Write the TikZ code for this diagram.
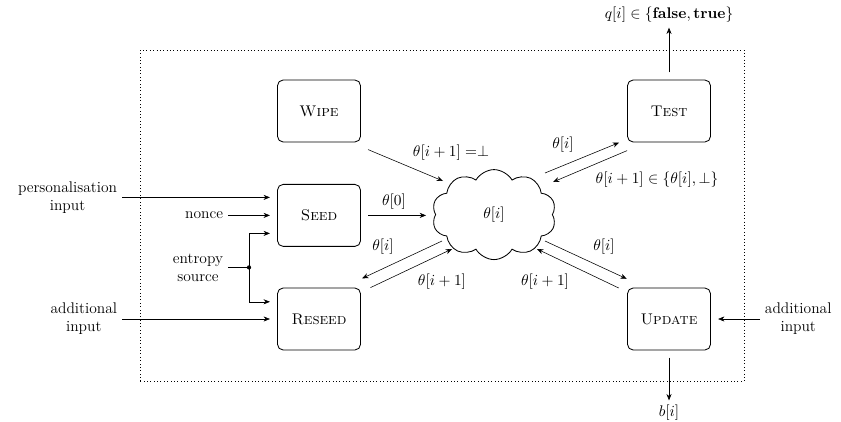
\documentclass[tikz,border=0pt]{standalone}
\usetikzlibrary{shapes.symbols,arrows.meta,calc}
\tikzset{
    block/.style={draw,semithick,rounded corners=4pt,minimum width=2.075cm,minimum height=1.55cm,outer sep=.19cm},
    store/.style={draw,semithick,cloud,cloud puffs=10,cloud puff arc=120,cloud ignores aspect,minimum width=3.1cm,minimum height=2.25cm,inner sep=0pt},
    >={Stealth[length=4.5pt,width=3.6pt]}
}
\begin{document}
\begin{tikzpicture}[font=\fontsize{11}{12.8}\selectfont]
                \useasboundingbox (0,0) rectangle (21.025,10.525);
                \draw[dotted] (3.5,1) rectangle (18.6,9.275);
                \node[block] (wipe) at (7.975,7.75) {\textsc{Wipe}};
                \node[block] (seed) at (7.975,5.14) {\textsc{Seed}};
                \node[block] (reseed) at (7.975,2.55) {\textsc{Reseed}};
                \node[block] (test) at (16.725,7.75) {\textsc{Test}};
                \node[block] (update) at (16.725,2.55) {\textsc{Update}};
                \node[store] (state) at (12.35,5.16) {$\theta[i]$};
                \node[anchor=east,align=center] (pers) at (3.05,5.59) {personalisation\\input};
                \node[anchor=east] (nonce) at (5.7,5.14) {nonce};
                \node[anchor=east,align=center] (entropy) at (5.7,3.84) {entropy\\source};
                \coordinate (split) at (6.225,3.84);
                \node[anchor=east,align=center] (addl) at (3.05,2.55) {additional\\input};
                \node[anchor=west,align=center] (addr) at (19,2.55) {additional\\input};
                \node (q) at (16.725,10.15) {$q[i] \in \{\mathbf{false}, \mathbf{true}\}$};
                \node (b) at (16.725,.2) {$b[i]$};
                \draw[->] (pers.east) -- (pers.east -| seed.west);
                \draw[->] (nonce) -- (nonce -| seed.west);
                \draw (entropy) -- (split);
                \draw[->] (split) |- ([yshift=-.45cm]seed.west);
                \draw[->] (split) |- ([yshift=.43cm]reseed.west);
                \fill (split) circle (1.5pt);
                \draw[->] (addl.east) -- (addl.east -| reseed.west);
                \draw[->] (addr) -- (addr -| update.east);
                \draw[->] (test) -- (q);
                \draw[->] (update) -- (b);
                \draw[->] (wipe.south east) -- ([shift={(-1.275,.84)}]state.center);
                \node (lwipe) at (11.275,6.7) {$\theta[i+1] = \perp$};
                \draw[->] (seed.east) -- ($(seed.east -| state.center)+(-1.7,0)$);
                \node (lseed) at (9.85,5.475) {$\theta[0]$};
                \draw[->] ([shift={(-1.3,-.66)}]state.center) -- ([shift={(-.15,.05)}]reseed.north east);
                \draw[->] ([shift={(.06,-.18)}]reseed.north east) -- ([shift={(-1.05,-.86)}]state.center);
                \node (lr1) at (9.575,4.35) {$\theta[i]$};
                \node (lr2) at (11.05,3.475) {$\theta[i+1]$};
                \draw[->] ([shift={(1.275,-.66)}]state.center) -- ([shift={(.17,.04)}]update.north west);
                \draw[->] ([shift={(-.03,-.19)}]update.north west) -- ([shift={(1.075,-.86)}]state.center);
                \node (lu1) at (15.1,4.35) {$\theta[i]$};
                \node (lu2) at (13.625,3.475) {$\theta[i+1]$};
                \draw[->] ([shift={(1.275,1.04)}]state.center) -- ([shift={(-.02,.175)}]test.south west);
                \draw[->] ([shift={(.18,-.025)}]test.south west) -- ([shift={(1.475,.815)}]state.center);
                \node (lt1) at (14.075,6.9) {$\theta[i]$};
                \node (lt2) at (16.425,6.025) {$\theta[i+1] \in \{\theta[i], \perp\}$};
\end{tikzpicture}
\end{document}
